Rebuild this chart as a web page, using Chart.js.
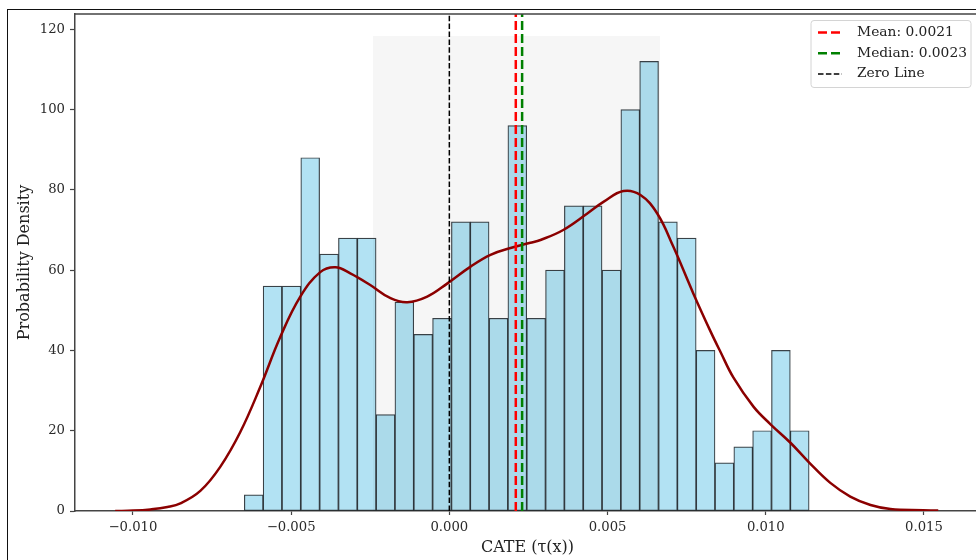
<!DOCTYPE html>
<html>
<head>
<meta charset="utf-8">
<script src="https://cdn.jsdelivr.net/npm/chart.js@4.4.1/dist/chart.umd.min.js"></script>
<style>
  html, body { margin: 0; padding: 0; background: #fff; overflow: hidden; }
  #frame { position: absolute; left: 7px; top: 9px; width: 1000px; height: 600px;
           border-left: 1px solid #111; border-top: 1px solid #111; }
  #c { position: absolute; left: 0; top: 0; }
</style>
</head>
<body>
<div id="frame"></div>
<canvas id="c" width="984" height="560"></canvas>
<script>
// histogram bins (centers) and heights
const binCenters = [-0.006182, -0.005587, -0.004992, -0.004397, -0.003802, -0.003207,
  -0.002612, -0.002017, -0.001422, -0.000827, -0.000232, 0.000363, 0.000958, 0.001553,
  0.002148, 0.002743, 0.003338, 0.003933, 0.004528, 0.005123, 0.005718, 0.006313,
  0.006908, 0.007503, 0.008098, 0.008693, 0.009288, 0.009883, 0.010478, 0.011073];
const binHeights = [4, 56, 56, 88, 64, 68, 68, 24, 52, 44, 48, 72, 72, 48, 96,
  48, 60, 76, 76, 60, 100, 112, 72, 68, 40, 12, 16, 20, 40, 20];

// KDE curve
const kdeX = [-0.01056, -0.00999, -0.00945, -0.00891, -0.00850, -0.00787, -0.00724,
  -0.00661, -0.00597, -0.00534, -0.00471, -0.00408, -0.00360, -0.00313, -0.00250,
  -0.00186, -0.00133, -0.00070, -0.00006, 0.00066, 0.00130, 0.00202, 0.00256,
  0.00288, 0.00360, 0.00436, 0.00487, 0.00550, 0.00604, 0.00657, 0.00708, 0.00771,
  0.00825, 0.00857, 0.00898, 0.00961, 0.01015, 0.01078, 0.01138, 0.01204, 0.01267,
  0.01331, 0.01394, 0.01498, 0.01545];
const kdeY = [0, 0.1, 0.4, 1.0, 1.9, 5.0, 11, 19.6, 31, 43.4, 53.4, 59.5, 60.7, 59.2,
  56.3, 53, 52, 53.4, 56.7, 60.8, 63.8, 65.7, 66.8, 67.5, 70, 74.1, 77, 79.7, 78.7,
  74.1, 65.8, 54.2, 44.8, 39.6, 33.2, 26.0, 21.6, 17.0, 12.0, 7.0, 3.6, 1.5, 0.5, 0.2, 0.1];

// shaded interval
const spanX = [-0.00242, 0.00666];
const spanTop = 118.3;

const meanVal = 0.0021;
const medianVal = 0.0023;
const zeroVal = 0;

const xTickVals = [-0.010, -0.005, 0.000, 0.005, 0.010, 0.015];
const xTickLabels = ['\u22120.010', '\u22120.005', '0.000', '0.005', '0.010', '0.015'];
const yTickVals = [0, 20, 40, 60, 80, 100, 120];
const yTickLabels = ['0', '20', '40', '60', '80', '100', '120'];

const legendLabels = ['Mean: 0.0021', 'Median: 0.0023', 'Zero Line'];

const xMin = -0.01183, xMax = 0.01677;
const yMax = 123.8;

const serif = '"DejaVu Serif", serif';
const spine = '#444';

function vline(v, color, width, dash, order) {
  return {
    type: 'line',
    data: [{ x: v, y: 0 }, { x: v, y: yMax }],
    borderColor: color,
    borderWidth: width,
    borderDash: dash,
    pointRadius: 0,
    fill: false,
    order: order
  };
}

// top/right spines and matplotlib style legend
const extras = {
  id: 'extras',
  afterDraw(chart) {
    const ctx = chart.ctx;
    const a = chart.chartArea;
    ctx.save();
    ctx.strokeStyle = spine;
    ctx.lineWidth = 1.5;
    ctx.beginPath();
    ctx.moveTo(a.left, a.top);
    ctx.lineTo(a.right, a.top);
    ctx.lineTo(a.right, a.bottom);
    ctx.stroke();

    const bx = a.right - 169, by = a.top + 6.5, bw = 160, bh = 67;
    ctx.beginPath();
    ctx.roundRect(bx, by, bw, bh, 3);
    ctx.fillStyle = 'rgba(255,255,255,0.85)';
    ctx.fill();
    ctx.strokeStyle = '#d4d4d4';
    ctx.lineWidth = 1;
    ctx.stroke();

    const styles = [
      { color: '#ff0000', width: 2.5, dash: [9, 4] },
      { color: '#008000', width: 2.5, dash: [9, 4] },
      { color: '#000000', width: 1.5, dash: [5.5, 2.4] }
    ];
    ctx.font = '13.8px ' + serif;
    ctx.textBaseline = 'middle';
    legendLabels.forEach((lab, i) => {
      const yy = by + 12 + i * 20.7;
      const s = styles[i];
      ctx.strokeStyle = s.color;
      ctx.lineWidth = s.width;
      ctx.setLineDash(s.dash);
      ctx.beginPath();
      ctx.moveTo(bx + 7, yy);
      ctx.lineTo(bx + 31, yy);
      ctx.stroke();
      ctx.setLineDash([]);
      ctx.fillStyle = '#222';
      ctx.fillText(lab, bx + 46, yy);
    });
    ctx.restore();
  }
};

new Chart(document.getElementById('c'), {
  type: 'bar',
  data: {
    datasets: [
      {
        type: 'bar',
        data: binCenters.map((c, i) => ({ x: c, y: binHeights[i] })),
        backgroundColor: 'rgb(178,226,243)',
        borderColor: 'rgba(15,25,30,0.82)',
        borderWidth: 1.2,
        borderSkipped: false,
        barPercentage: 1,
        categoryPercentage: 1,
        order: 6
      },
      {
        type: 'line',
        data: [{ x: spanX[0], y: spanTop }, { x: spanX[1], y: spanTop }],
        borderWidth: 0,
        pointRadius: 0,
        fill: 'origin',
        backgroundColor: 'rgba(0,0,0,0.035)',
        order: 5
      },
      {
        type: 'line',
        data: kdeX.map((x, i) => ({ x: x, y: kdeY[i] })),
        borderColor: '#8b0000',
        borderWidth: 2.5,
        pointRadius: 0,
        tension: 0.4,
        fill: false,
        order: 4
      },
      vline(zeroVal, '#000000', 1.5, [5.5, 2.4], 3),
      vline(meanVal, '#ff0000', 2.5, [9, 4], 2),
      vline(medianVal, '#008000', 2.5, [9, 4], 1)
    ]
  },
  options: {
    responsive: false,
    devicePixelRatio: 1,
    animation: false,
    layout: { padding: { left: 8, top: 14, right: 4, bottom: 0 } },
    plugins: { legend: { display: false }, tooltip: { enabled: false } },
    scales: {
      x: {
        type: 'linear',
        min: xMin,
        max: xMax,
        offset: false,
        grid: { display: true, drawOnChartArea: false, drawTicks: true, tickLength: 4,
                tickColor: spine, tickWidth: 1.2, offset: false },
        border: { display: true, color: spine, width: 1.5 },
        ticks: {
          autoSkip: false, maxRotation: 0, padding: 5, color: '#2a2a2a',
          font: { family: serif, size: 13.2 },
          callback: (v, i) => xTickLabels[i]
        },
        afterBuildTicks: s => { s.ticks = xTickVals.map(v => ({ value: v })); },
        afterFit: s => { s.height = 49; },
        title: { display: true, text: 'CATE (\u03c4(x))', color: '#222',
                 font: { family: serif, size: 16 }, padding: { top: 0, bottom: 2.4 } }
      },
      y: {
        type: 'linear',
        min: 0,
        max: yMax,
        grid: { display: true, drawOnChartArea: false, drawTicks: true, tickLength: 5,
                tickColor: spine, tickWidth: 1.2 },
        border: { display: true, color: spine, width: 1.5 },
        ticks: {
          autoSkip: false, padding: 5, color: '#2a2a2a',
          font: { family: serif, size: 13.2 },
          callback: (v, i) => yTickLabels[i]
        },
        afterBuildTicks: s => { s.ticks = yTickVals.map(v => ({ value: v })); },
        afterFit: s => { s.width = 67; },
        title: { display: true, text: 'Probability Density', color: '#222',
                 font: { family: serif, size: 16 }, padding: { top: 7.4, bottom: 0 } }
      }
    }
  },
  plugins: [extras]
});
</script>
</body>
</html>
